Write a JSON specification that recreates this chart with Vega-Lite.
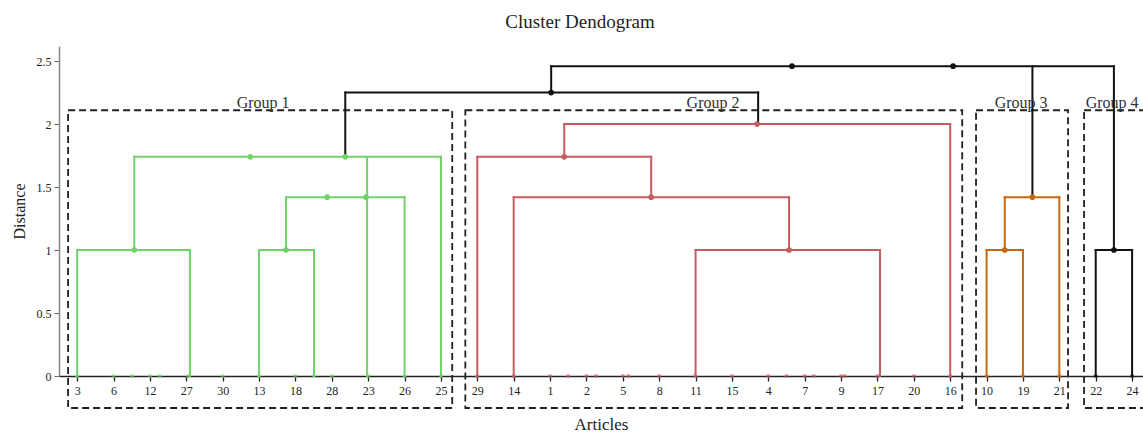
{
  "$schema": "https://vega.github.io/schema/vega-lite/v6.json",
  "autosize": "none",
  "width": 1084,
  "height": 330,
  "padding": {"left": 59, "top": 46, "right": 0, "bottom": 58},
  "background": "white",
  "config": {
    "font": "Liberation Serif",
    "view": {"stroke": null},
    "axis": {"grid": false, "labelFont": "Liberation Serif", "titleFont": "Liberation Serif", "titleFontWeight": "normal", "labelColor": "#222", "titleColor": "#222"},
    "axisX": {"labelOverlap": false, "labelFlush": false, "labelBound": false}
  },
  "title": {"text": "Cluster Dendogram", "fontSize": 19, "fontWeight": "normal", "font": "Liberation Serif", "color": "#222", "dx": -21, "offset": 14},
  "datasets": {
    "segs": [
      {"x": 0, "x2": 0, "y": 0, "y2": 1, "grp": "g"},
      {"x": 3.1, "x2": 3.1, "y": 0, "y2": 1, "grp": "g"},
      {"x": 0, "x2": 3.1, "y": 1, "y2": 1, "grp": "g"},
      {"x": 1.57, "x2": 1.57, "y": 1, "y2": 1.74, "grp": "g"},
      {"x": 1.57, "x2": 10, "y": 1.74, "y2": 1.74, "grp": "g"},
      {"x": 5, "x2": 5, "y": 0, "y2": 1, "grp": "g"},
      {"x": 6.51, "x2": 6.51, "y": 0, "y2": 1, "grp": "g"},
      {"x": 5, "x2": 6.51, "y": 1, "y2": 1, "grp": "g"},
      {"x": 5.74, "x2": 5.74, "y": 1, "y2": 1.42, "grp": "g"},
      {"x": 5.74, "x2": 9, "y": 1.42, "y2": 1.42, "grp": "g"},
      {"x": 7.97, "x2": 7.97, "y": 0, "y2": 1.74, "grp": "g"},
      {"x": 9, "x2": 9, "y": 0, "y2": 1.42, "grp": "g"},
      {"x": 10, "x2": 10, "y": 0, "y2": 1.74, "grp": "g"},
      {"x": 13.39, "x2": 24, "y": 2.0, "y2": 2.0, "grp": "r"},
      {"x": 13.39, "x2": 13.39, "y": 1.74, "y2": 2.0, "grp": "r"},
      {"x": 11, "x2": 15.78, "y": 1.74, "y2": 1.74, "grp": "r"},
      {"x": 11, "x2": 11, "y": 0, "y2": 1.74, "grp": "r"},
      {"x": 15.78, "x2": 15.78, "y": 1.42, "y2": 1.74, "grp": "r"},
      {"x": 12, "x2": 19.57, "y": 1.42, "y2": 1.42, "grp": "r"},
      {"x": 12, "x2": 12, "y": 0, "y2": 1.42, "grp": "r"},
      {"x": 19.57, "x2": 19.57, "y": 1, "y2": 1.42, "grp": "r"},
      {"x": 17, "x2": 22.07, "y": 1, "y2": 1, "grp": "r"},
      {"x": 17, "x2": 17, "y": 0, "y2": 1, "grp": "r"},
      {"x": 22.07, "x2": 22.07, "y": 0, "y2": 1, "grp": "r"},
      {"x": 24, "x2": 24, "y": 0, "y2": 2.0, "grp": "r"},
      {"x": 25, "x2": 25, "y": 0, "y2": 1, "grp": "o"},
      {"x": 26, "x2": 26, "y": 0, "y2": 1, "grp": "o"},
      {"x": 25, "x2": 26, "y": 1, "y2": 1, "grp": "o"},
      {"x": 25.5, "x2": 25.5, "y": 1, "y2": 1.42, "grp": "o"},
      {"x": 25.5, "x2": 27, "y": 1.42, "y2": 1.42, "grp": "o"},
      {"x": 27, "x2": 27, "y": 0, "y2": 1.42, "grp": "o"},
      {"x": 7.37, "x2": 7.37, "y": 1.74, "y2": 2.25, "grp": "k"},
      {"x": 7.37, "x2": 18.72, "y": 2.25, "y2": 2.25, "grp": "k"},
      {"x": 18.72, "x2": 18.72, "y": 2.0, "y2": 2.25, "grp": "k"},
      {"x": 13.03, "x2": 13.03, "y": 2.25, "y2": 2.46, "grp": "k"},
      {"x": 13.03, "x2": 28.5, "y": 2.46, "y2": 2.46, "grp": "k"},
      {"x": 26.26, "x2": 26.26, "y": 1.42, "y2": 2.46, "grp": "k"},
      {"x": 28.5, "x2": 28.5, "y": 1.0, "y2": 2.46, "grp": "k"},
      {"x": 28, "x2": 28, "y": 0, "y2": 1, "grp": "k"},
      {"x": 29, "x2": 29, "y": 0, "y2": 1, "grp": "k"},
      {"x": 28, "x2": 29, "y": 1, "y2": 1, "grp": "k"}
    ],
    "nodes": [
      {"x": 1.57, "y": 1.0, "grp": "g"},
      {"x": 5.74, "y": 1.0, "grp": "g"},
      {"x": 4.76, "y": 1.74, "grp": "g"},
      {"x": 7.37, "y": 1.74, "grp": "g"},
      {"x": 6.87, "y": 1.42, "grp": "g"},
      {"x": 7.94, "y": 1.42, "grp": "g"},
      {"x": 13.39, "y": 1.74, "grp": "r"},
      {"x": 15.78, "y": 1.42, "grp": "r"},
      {"x": 19.57, "y": 1.0, "grp": "r"},
      {"x": 18.69, "y": 2.0, "grp": "r"},
      {"x": 25.5, "y": 1.0, "grp": "o"},
      {"x": 26.26, "y": 1.42, "grp": "o"},
      {"x": 13.03, "y": 2.25, "grp": "k"},
      {"x": 19.65, "y": 2.46, "grp": "k"},
      {"x": 24.08, "y": 2.46, "grp": "k"},
      {"x": 28.5, "y": 1.0, "grp": "k"}
    ],
    "leaves": [
      {"x": 0, "grp": "g"}, {"x": 1, "grp": "g"}, {"x": 1.5, "grp": "g"}, {"x": 2, "grp": "g"}, {"x": 2.27, "grp": "g"},
      {"x": 3.05, "grp": "g"}, {"x": 4, "grp": "g"}, {"x": 5, "grp": "g"}, {"x": 6, "grp": "g"}, {"x": 6.5, "grp": "g"},
      {"x": 7, "grp": "g"}, {"x": 8, "grp": "g"}, {"x": 9, "grp": "g"}, {"x": 10, "grp": "g"},
      {"x": 11, "grp": "r"}, {"x": 12, "grp": "r"}, {"x": 13, "grp": "r"}, {"x": 13.5, "grp": "r"}, {"x": 14, "grp": "r"},
      {"x": 14.26, "grp": "r"}, {"x": 15, "grp": "r"}, {"x": 15.15, "grp": "r"}, {"x": 16, "grp": "r"}, {"x": 17, "grp": "r"},
      {"x": 18, "grp": "r"}, {"x": 19, "grp": "r"}, {"x": 19.5, "grp": "r"}, {"x": 20, "grp": "r"}, {"x": 20.25, "grp": "r"},
      {"x": 21, "grp": "r"}, {"x": 21.1, "grp": "r"}, {"x": 22, "grp": "r"}, {"x": 23, "grp": "r"}, {"x": 24, "grp": "r"},
      {"x": 25, "grp": "o"}, {"x": 26, "grp": "o"}, {"x": 27, "grp": "o"},
      {"x": 28, "grp": "k"}, {"x": 29, "grp": "k"}
    ],
    "boxes": [
      {"x": -0.25, "x2": 10.31, "y": -0.254, "y2": 2.11},
      {"x": 10.67, "x2": 24.33, "y": -0.254, "y2": 2.11},
      {"x": 24.71, "x2": 27.24, "y": -0.254, "y2": 2.11},
      {"x": 27.68, "x2": 30.5, "y": -0.254, "y2": 2.11}
    ],
    "labels": [
      {"x": 5.11, "y": 2.127, "label": "Group 1"},
      {"x": 17.48, "y": 2.127, "label": "Group 2"},
      {"x": 25.95, "y": 2.127, "label": "Group 3"},
      {"x": 28.45, "y": 2.127, "label": "Group 4"}
    ]
  },
  "layer": [
    {
      "data": {"name": "boxes"},
      "mark": {"type": "rect", "filled": false, "stroke": "#222", "strokeWidth": 1.8, "strokeDash": [7, 4]},
      "encoding": {
        "x": {"field": "x", "type": "quantitative", "scale": {"domain": [-0.5, 29.3], "nice": false, "zero": false},
          "axis": {"values": [0,1,2,3,4,5,6,7,8,9,10,11,12,13,14,15,16,17,18,19,20,21,22,23,24,25,26,27,28,29],
            "tickCount": 60,
            "labelExpr": "['3','6','12','27','30','13','18','28','23','26','25','29','14','1','2','5','8','11','15','4','7','9','17','20','16','10','19','21','22','24'][datum.value]",
            "labelFontSize": 12, "labelFlush": false, "labelOverlap": false, "labelPadding": 4,
            "tickSize": 5, "tickColor": "#222", "tickWidth": 1.3, "domainColor": "#222", "domainWidth": 1.5,
            "title": "Articles", "titleFontSize": 17, "titlePadding": 20}},
        "x2": {"field": "x2"},
        "y": {"field": "y", "type": "quantitative", "scale": {"domain": [0, 2.62], "nice": false},
          "axis": {"values": [0, 0.5, 1, 1.5, 2, 2.5], "tickCount": 20, "format": "~g", "labelFontSize": 12, "labelPadding": 3,
            "tickSize": 5, "tickColor": "#666", "domainColor": "#888", "domainWidth": 1.5,
            "title": "Distance", "titleFontSize": 16, "titlePadding": 9}},
        "y2": {"field": "y2"}
      }
    },
    {
      "data": {"name": "leaves"},
      "mark": {"type": "point", "filled": true, "size": 18, "opacity": 0.6},
      "encoding": {
        "x": {"field": "x", "type": "quantitative"},
        "y": {"datum": 0, "type": "quantitative"},
        "color": {"field": "grp", "type": "nominal", "scale": {"domain": ["g", "r", "o", "k"], "range": ["#72d26a", "#c45c62", "#c8680e", "#111111"]}, "legend": null}
      }
    },
    {
      "data": {"name": "segs"},
      "mark": {"type": "rule", "strokeWidth": 2, "strokeCap": "square"},
      "encoding": {
        "x": {"field": "x", "type": "quantitative"},
        "x2": {"field": "x2"},
        "y": {"field": "y", "type": "quantitative"},
        "y2": {"field": "y2"},
        "color": {"field": "grp", "type": "nominal", "legend": null}
      }
    },
    {
      "data": {"name": "nodes"},
      "mark": {"type": "point", "filled": true, "size": 32, "opacity": 1},
      "encoding": {
        "x": {"field": "x", "type": "quantitative"},
        "y": {"field": "y", "type": "quantitative"},
        "color": {"field": "grp", "type": "nominal", "legend": null}
      }
    },
    {
      "data": {"name": "labels"},
      "mark": {"type": "text", "font": "Liberation Serif", "fontSize": 16, "color": "#333", "baseline": "alphabetic", "align": "center"},
      "encoding": {
        "x": {"field": "x", "type": "quantitative"},
        "y": {"field": "y", "type": "quantitative"},
        "text": {"field": "label"}
      }
    }
  ]
}
